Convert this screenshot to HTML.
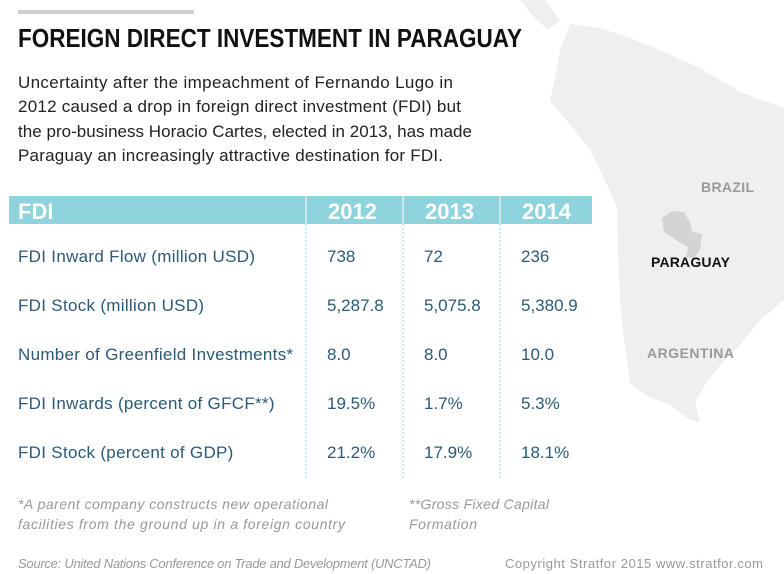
<!DOCTYPE html>
<html><head><meta charset="utf-8"><style>
html,body{margin:0;padding:0;background:#fff}
svg{display:block;font-family:"Liberation Sans",sans-serif}
</style></head><body>
<svg width="784" height="574" viewBox="0 0 784 574">
<g>
<polygon fill="#efefef" points="570,24 600,28 630,38 660,50 700,68 740,92 784,108 784,300 760,320 740,345 720,365 705,385 695,402 700,422 690,420 670,405 645,395 630,383 624,340 620,300 618,250 617,207 600,170 590,150 570,125 550,100 555,78 560,50"/>
<polygon fill="#efefef" points="520,0 545,0 560,20 548,30 535,18"/>
<polygon fill="#d4d4d4" points="662,218 672,211 684,212 690,222 692,232 702,234 700,250 694,258 686,257 688,247 676,240 664,232"/>
<text x="701" y="192" font-size="14" font-weight="bold" fill="#999" textLength="53">BRAZIL</text>
<text x="651" y="267" font-size="14" font-weight="bold" fill="#111" textLength="79">PARAGUAY</text>
<text x="647" y="358" font-size="14" font-weight="bold" fill="#999" textLength="87">ARGENTINA</text>
</g>
<rect x="18" y="10" width="176" height="4" fill="#cfcfcf"/>
<text x="18" y="47" font-size="26" font-weight="bold" fill="#111" textLength="504" lengthAdjust="spacingAndGlyphs">FOREIGN DIRECT INVESTMENT IN PARAGUAY</text>
<g font-size="17" fill="#222">
<text x="18" y="88" textLength="435">Uncertainty after the impeachment of Fernando Lugo in</text>
<text x="18" y="112" textLength="443">2012 caused a drop in foreign direct investment (FDI) but</text>
<text x="18" y="137" textLength="454">the pro-business Horacio Cartes, elected in 2013, has made</text>
<text x="18" y="161" textLength="425">Paraguay an increasingly attractive destination for FDI.</text>
</g>
<g id="table"></g>
<g font-size="14" font-style="italic" fill="#999">
<text x="18" y="509" textLength="310">*A parent company constructs new operational</text>
<text x="18" y="529" textLength="327">facilities from the ground up in a foreign country</text>
<text x="409" y="509" textLength="140">**Gross Fixed Capital</text>
<text x="409" y="529" textLength="68">Formation</text>
<text x="18" y="568" font-size="13" textLength="413">Source: United Nations Conference on Trade and Development (UNCTAD)</text>
<text x="505" y="568" font-size="13" font-style="normal" textLength="258">Copyright Stratfor 2015   www.stratfor.com</text>
</g>
</svg>
<script>
const years = ["2012","2013","2014"];
const rowLabels = ["FDI Inward Flow (million USD)","FDI Stock (million USD)","Number of Greenfield Investments*","FDI Inwards (percent of GFCF**)","FDI Stock (percent of GDP)"];
const values2012 = ["738","5,287.8","8.0","19.5%","21.2%"];
const values2013 = ["72","5,075.8","8.0","1.7%","17.9%"];
const values2014 = ["236","5,380.9","10.0","5.3%","18.1%"];
const NS="http://www.w3.org/2000/svg";
const g=document.getElementById('table');
function mk(tag,attrs,txt){const e=document.createElementNS(NS,tag);for(const k in attrs)e.setAttribute(k,attrs[k]);if(txt!==undefined)e.textContent=txt;g.appendChild(e);return e;}
const colX=[9,306,403,500,592];
const hdr=mk('rect',{x:9,y:196,width:583,height:28,fill:'#8fd3dc'});


for(let i=1;i<4;i++){
 const sep=mk('line',{x1:colX[i],y1:196,x2:colX[i],y2:224,stroke:'#fff','stroke-width':1});
 
 
 const dl=mk('line',{x1:colX[i],y1:224,x2:colX[i],y2:478,stroke:'#8fd3dc','stroke-width':1,'stroke-dasharray':'2,2'});
 
 
}
const h0=mk('text',{x:18,y:219,'font-size':22,'font-weight':'bold',fill:'#fff'},'FDI');


years.forEach((y,i)=>{
 const t=mk('text',{x:colX[i+1]+22,y:219,'font-size':22,'font-weight':'bold',fill:'#fff'},y);
 
 
});
const cols=[values2012,values2013,values2014];
rowLabels.forEach((lab,r)=>{
 const yy=262+r*49;
 const t=mk('text',{x:18,y:yy,'font-size':17,fill:'#2a5a76','letter-spacing':'0.3'},lab);
 
 
 cols.forEach((c,i)=>{
  const v=mk('text',{x:colX[i+1]+21,y:yy,'font-size':17,fill:'#2a5a76'},c[r]);
  
  
 });
});
</script>
</body></html>
